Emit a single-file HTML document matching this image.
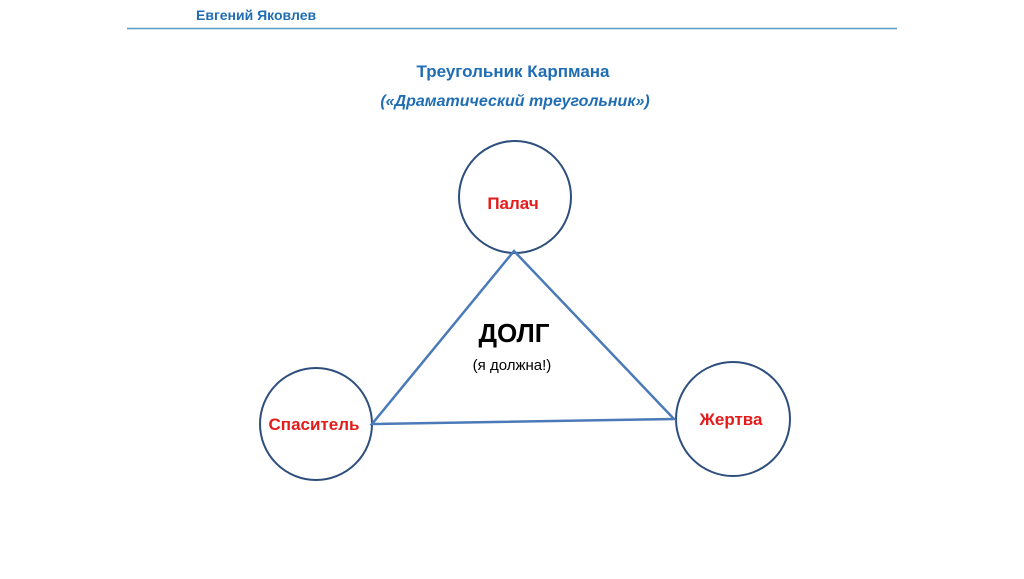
<!DOCTYPE html>
<html><head><meta charset="utf-8"><style>
body{margin:0;width:1024px;height:574px;background:#fff;overflow:hidden;font-family:"Liberation Sans",sans-serif}
</style></head><body>
<svg width="1024" height="574" xmlns="http://www.w3.org/2000/svg" font-family="Liberation Sans, sans-serif">
<text x="196" y="20" font-size="14" font-weight="bold" fill="#1f6db4">Евгений Яковлев</text>
<line x1="127" y1="28.5" x2="897" y2="28.5" stroke="#5b9bc8" stroke-width="1.5"/>
<text x="513" y="77" font-size="17" font-weight="bold" fill="#1f6db4" text-anchor="middle">Треугольник Карпмана</text>
<text x="515" y="106" font-size="16" font-weight="bold" font-style="italic" fill="#1f6db4" text-anchor="middle">(«Драматический треугольник»)</text>
<g fill="none" stroke="#2e4f7d" stroke-width="2">
<circle cx="515" cy="197" r="56"/>
<circle cx="316" cy="424" r="56"/>
<circle cx="733" cy="419" r="57"/>
</g>
<polygon points="514,251 372,424 674,419" fill="none" stroke="#4a7ab8" stroke-width="2.5"/>
<g font-weight="bold" fill="#e31b1b" text-anchor="middle" font-size="17">
<text x="513" y="209">Палач</text>
<text x="314" y="430">Спаситель</text>
<text x="731" y="425">Жертва</text>
</g>
<text x="514" y="342" font-size="26" font-weight="bold" text-anchor="middle" fill="#000">ДОЛГ</text>
<text x="512" y="370" font-size="15" text-anchor="middle" fill="#000">(я должна!)</text>
</svg>
</body></html>
